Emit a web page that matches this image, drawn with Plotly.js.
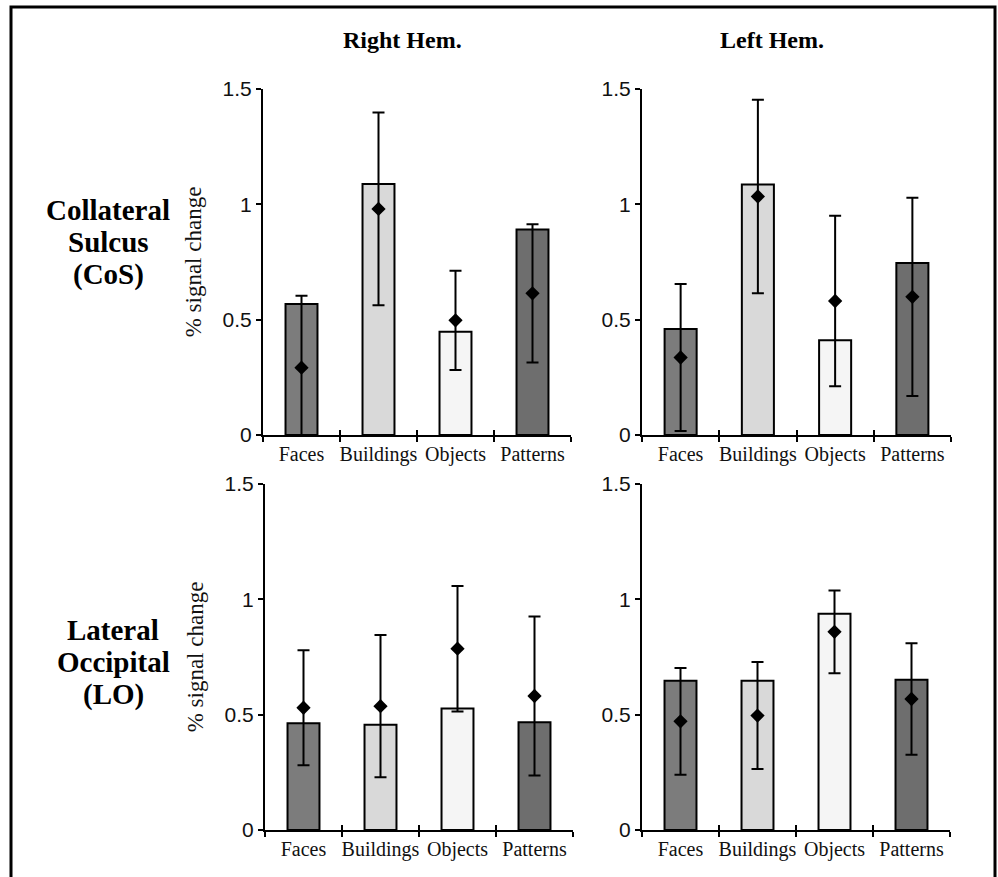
<!DOCTYPE html>
<html>
<head>
<meta charset="utf-8">
<script src="https://cdn.plot.ly/plotly-3.0.1.min.js"></script>
<style>
  html, body { margin: 0; padding: 0; background: #ffffff; }
  #chart { width: 998px; height: 877px; }
</style>
</head>
<body>
<div id="chart"></div>
<script>
// ---- Data ----
const categories = ["Faces", "Buildings", "Objects", "Patterns"];
const barColors = ["#7c7c7c", "#d9d9d9", "#f5f5f5", "#6e6e6e"];

const columnTitles = ["Right Hem.", "Left Hem."];
const rowLabels = [["Collateral", "Sulcus", "(CoS)"], ["Lateral", "Occipital", "(LO)"]];
const yTitle = "% signal change";
const yTickVals = [0, 0.5, 1, 1.5];
const yTickText = ["0", "0.5", "1", "1.5"];

// Collateral Sulcus, Right hemisphere
const cosRightBar  = [0.568, 1.088, 0.448, 0.891];
const cosRightMean = [0.292, 0.980, 0.497, 0.614];
const cosRightErr  = [0.312, 0.418, 0.215, 0.300];
// Collateral Sulcus, Left hemisphere
const cosLeftBar  = [0.460, 1.086, 0.411, 0.746];
const cosLeftMean = [0.336, 1.034, 0.581, 0.599];
const cosLeftErr  = [0.319, 0.419, 0.370, 0.430];
// Lateral Occipital, Right hemisphere
const loRightBar  = [0.463, 0.456, 0.527, 0.467];
const loRightMean = [0.530, 0.537, 0.786, 0.581];
const loRightErr  = [0.249, 0.308, 0.272, 0.345];
// Lateral Occipital, Left hemisphere
const loLeftBar  = [0.647, 0.647, 0.937, 0.651];
const loLeftMean = [0.471, 0.496, 0.859, 0.568];
const loLeftErr  = [0.231, 0.232, 0.179, 0.242];

// ---- Layout geometry (paper fractions) ----
const W = 998, H = 877;
const px = v => v / W;
const py = v => (H - v) / H;

const panels = [
  { bar: cosRightBar, mean: cosRightMean, err: cosRightErr, xd: [px(263), px(571)], yd: [py(435), py(89)], ytitle: true },
  { bar: cosLeftBar,  mean: cosLeftMean,  err: cosLeftErr,  xd: [px(642), px(951)], yd: [py(435), py(89)], ytitle: false },
  { bar: loRightBar,  mean: loRightMean,  err: loRightErr,  xd: [px(265), px(573)], yd: [py(830), py(484)], ytitle: true },
  { bar: loLeftBar,   mean: loLeftMean,   err: loLeftErr,   xd: [px(642), px(950)], yd: [py(830), py(484)], ytitle: false }
];

const serif = "Liberation Serif, Times New Roman, serif";
const sans = "Liberation Sans, Arial, sans-serif";

const traces = [];
const layout = {
  width: W, height: H,
  margin: { l: 0, r: 0, t: 0, b: 0 },
  paper_bgcolor: "#ffffff",
  plot_bgcolor: "rgba(0,0,0,0)",
  showlegend: false,
  bargap: 0.585,
  annotations: [],
  shapes: []
};

panels.forEach((p, i) => {
  const n = i + 1;
  const xa = n === 1 ? "x" : "x" + n;
  const ya = n === 1 ? "y" : "y" + n;
  const xo = "x" + (n + 4);
  traces.push({
    type: "bar", x: categories, y: p.bar, xaxis: xa, yaxis: ya,
    marker: { color: barColors, line: { color: "#000000", width: 2 } },
    hoverinfo: "skip"
  });
  traces.push({
    type: "scatter", mode: "markers", x: categories, y: p.mean, xaxis: xa, yaxis: ya,
    marker: { symbol: "diamond", size: 11, color: "#000000" },
    error_y: { type: "data", array: p.err, visible: true, color: "#000000", thickness: 2, width: 6 },
    hoverinfo: "skip"
  });
  layout["xaxis" + (n === 1 ? "" : n)] = {
    domain: p.xd, anchor: ya, type: "category",
    categoryorder: "array", categoryarray: categories,
    range: [-0.5, 3.5], fixedrange: true,
    showline: true, linecolor: "#000000", linewidth: 2,
    ticks: "outside", tickson: "boundaries", ticklen: 5, tickwidth: 2, tickcolor: "#000000",
    showgrid: false, zeroline: false, tickangle: 0,
    tickfont: { family: serif, size: 20, color: "#111111" }
  };
  layout["xaxis" + (n + 4)] = {
    overlaying: xa, anchor: ya, type: "linear",
    range: [-0.5, 3.5], fixedrange: true,
    tickmode: "array", tickvals: [0.5, 1.5, 2.5, 3.5],
    ticks: "inside", ticklen: 5, tickwidth: 2, tickcolor: "#000000",
    showticklabels: false, showline: false, showgrid: false, zeroline: false
  };
  layout["yaxis" + (n === 1 ? "" : n)] = {
    domain: p.yd, anchor: xa,
    range: [0, 1.5], fixedrange: true,
    tickmode: "array", tickvals: yTickVals, ticktext: yTickText,
    showline: true, linecolor: "#000000", linewidth: 2,
    ticks: "outside", ticklen: 5, tickwidth: 2, tickcolor: "#000000",
    showgrid: false, zeroline: false,
    tickfont: { family: sans, size: 21, color: "#111111" },
    title: p.ytitle ? { text: yTitle, font: { family: serif, size: 23, color: "#111111" }, standoff: 15 } : { text: "" }
  };
  // invisible dummy trace so the overlay axis is drawn
  traces.push({ type: "scatter", x: [], y: [], xaxis: xo, yaxis: ya, hoverinfo: "skip", showlegend: false });
});

// Column titles
const colX = [402, 772];
columnTitles.forEach((t, j) => {
  layout.annotations.push({
    text: "<b>" + t + "</b>", xref: "paper", yref: "paper",
    x: px(colX[j]), y: py(40), xanchor: "center", yanchor: "middle",
    showarrow: false, font: { family: serif, size: 24, color: "#000000" }
  });
});

// Row labels (one annotation per line)
const rowCenters = [[210, 242, 274], [630, 662, 694]];
const rowX = [108, 113];
rowLabels.forEach((lines, r) => {
  lines.forEach((line, k) => {
    layout.annotations.push({
      text: "<b>" + line + "</b>", xref: "paper", yref: "paper",
      x: px(rowX[r]), y: py(rowCenters[r][k]), xanchor: "center", yanchor: "middle",
      showarrow: false, font: { family: serif, size: 29, color: "#000000" }
    });
  });
});

// Outer frame
layout.shapes.push({
  type: "rect", xref: "paper", yref: "paper",
  x0: px(11), x1: px(995), y0: -0.05, y1: py(7),
  line: { color: "#000000", width: 3 }, fillcolor: "rgba(0,0,0,0)", layer: "below"
});

Plotly.newPlot("chart", traces, layout, { displayModeBar: false, staticPlot: true });
</script>
</body>
</html>
